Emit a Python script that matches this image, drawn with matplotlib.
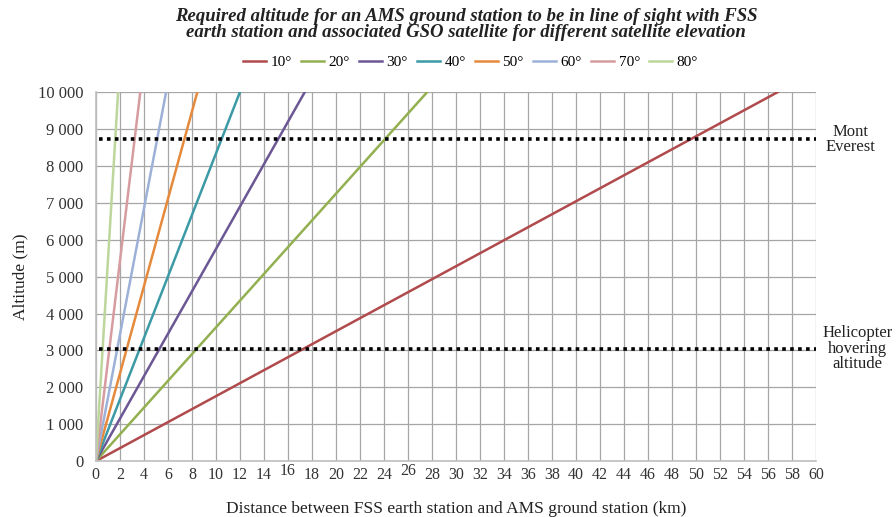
import numpy as np
import matplotlib.pyplot as plt

# elevation angles and where each line reaches 10 000 m (km)
elevations = ['10°', '20°', '30°', '40°', '50°', '60°', '70°', '80°']
dist_at_top = [56.8, 27.6, 17.4, 12.0, 8.45, 5.85, 3.7, 1.85]
alt_top = 10000
colors = ['#b04a4c', '#92b050', '#6b5793', '#3b9aa6', '#e58a3c', '#9db1d8', '#d69ca0', '#bcd69c']

everest_alt = 8720
heli_alt = 3050

xticks = list(range(0, 61, 2))
yticks = list(range(0, 10001, 1000))
ytick_labels = ['0', '1 000', '2 000', '3 000', '4 000', '5 000', '6 000',
                '7 000', '8 000', '9 000', '10 000']

plt.rcParams['font.family'] = ['Liberation Serif', 'DejaVu Serif']

fig = plt.figure(figsize=(8.96, 5.17), dpi=100)
ax = fig.add_axes([0.107, 0.108, 0.804, 0.714])

for lab, d, c in zip(elevations, dist_at_top, colors):
    ax.plot([0, d], [0, alt_top], color=c, lw=1.8, label=lab)

ax.plot([0.3, 60], [everest_alt, everest_alt], color='black', lw=2.6, ls=(0, (1, 1.2)))
ax.plot([0.3, 60], [heli_alt, heli_alt], color='black', lw=2.6, ls=(0, (1, 1.2)))

ax.set_xlim(0, 60)
ax.set_ylim(0, 10000)
ax.set_xticks(xticks)
ax.set_yticks(yticks)
ax.set_yticklabels(ytick_labels)
ax.tick_params(axis='x', length=0, labelsize=11.5, colors='#333333', pad=4)
ax.tick_params(axis='y', length=0, labelsize=12, colors='#333333', pad=9)
ax.grid(True, color='#a6a6a6', lw=0.9)
ax.set_axisbelow(True)
for s in ['top', 'right']:
    ax.spines[s].set_visible(False)
for s in ['left', 'bottom']:
    ax.spines[s].set_color('#bfbfbf')
    ax.spines[s].set_linewidth(1.2)

# the 16 and 26 labels sit a little higher in the original
for lbl in ax.get_xticklabels():
    if lbl.get_text() in ('16', '26'):
        lbl.set_y(0.01)

ax.set_xlabel('Distance between FSS earth station and AMS ground station (km)',
              fontsize=12.5, labelpad=13, color='#222222')
ax.set_ylabel('Altitude (m)', fontsize=12.5, labelpad=7, color='#222222')

fig.text(0.52, 0.985, 'Required altitude for an AMS ground station to be in line of sight with FSS\n'
         'earth station and associated GSO satellite for different satellite elevation',
         ha='center', va='top', fontsize=13.5, fontweight='bold', style='italic',
         color='#222222', linespacing=0.95)

ax.legend(loc='lower center', bbox_to_anchor=(0.52, 1.025), ncol=8, frameon=False,
          fontsize=11, handlelength=1.5, handletextpad=0.3, columnspacing=0.6)

ax.text(60.8, everest_alt, 'Mont\nEverest', ha='left', va='center',
        fontsize=12, multialignment='center', linespacing=0.95, color='#222222')
ax.text(60.5, heli_alt, 'Helicopter\nhovering\naltitude', ha='left', va='center',
        fontsize=12, multialignment='center', linespacing=0.95, color='#222222')

fig.savefig('out.png', dpi=100)
